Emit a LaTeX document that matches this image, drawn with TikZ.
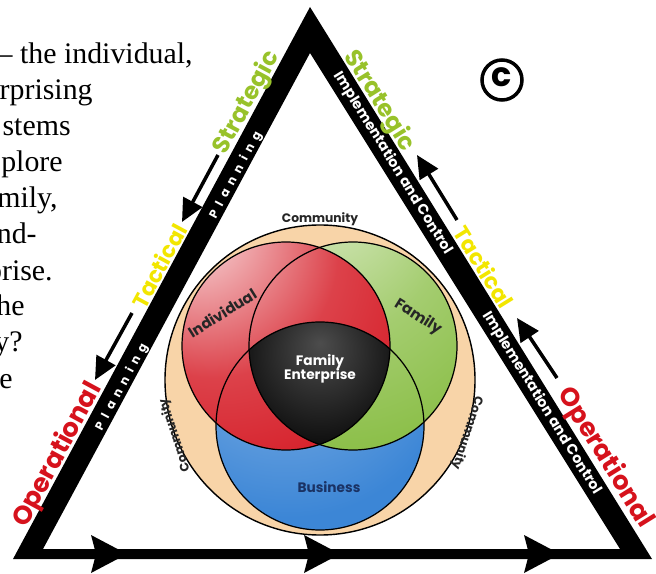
\documentclass[tikz,border=0pt]{standalone}
\usepackage{fontspec}
\setmainfont{Liberation Serif}
\newfontfamily\labelfont{Poppins}
\usetikzlibrary{arrows.meta}

\definecolor{stratgreen}{RGB}{152,194,42}
\definecolor{tactyellow}{RGB}{242,230,0}
\definecolor{operred}{RGB}{214,18,28}
\definecolor{indred}{RGB}{214,32,42}
\definecolor{famgreen}{RGB}{134,188,64}
\definecolor{busblue}{RGB}{60,134,214}
\definecolor{commpeach}{RGB}{248,212,168}
\definecolor{busnavy}{RGB}{26,50,100}

% highlights sit up and to the left of each circle
\pgfdeclareradialshading{redball}{\pgfpoint{-25bp}{32bp}}{color(0bp)=(white); color(5bp)=(indred!20!white); color(30bp)=(indred!85!white); color(48bp)=(indred); color(100bp)=(indred)}
\pgfdeclareradialshading{greenball}{\pgfpoint{-8bp}{42bp}}{color(0bp)=(famgreen!25!white); color(28bp)=(famgreen!75!white); color(52bp)=(famgreen); color(100bp)=(famgreen)}
\pgfdeclareradialshading{blueball}{\pgfpoint{-12bp}{30bp}}{color(0bp)=(busblue!55!white); color(40bp)=(busblue); color(100bp)=(busblue)}
\pgfdeclareradialshading{darkball}{\pgfpoint{0bp}{20bp}}{color(0bp)=(black!70); color(25bp)=(black); color(100bp)=(black)}

\tikzset{
    bodytext/.style={font=\fontsize{17}{20}\selectfont, inner sep=0, anchor=base east},
    sidelabel/.style={font=\labelfont\bfseries\fontsize{#1}{#1}\selectfont, inner sep=0},
    barlabel/.style={font=\labelfont\bfseries\fontsize{#1}{#1}\selectfont, text=white, inner sep=0},
    vennlabel/.style={font=\labelfont\bfseries\fontsize{#1}{#1}\selectfont, inner sep=0, align=center},
    sidearrow/.style={line width=2pt, -{Triangle[length=13pt, width=12pt]}},
}

\begin{document}
\begin{tikzpicture}[x=0.02cm, y=-0.02cm]
    \useasboundingbox (0,0) rectangle (656,574);
    \clip (0,0) rectangle (656,574);

    % text running in from the left page edge
    \foreach \xe/\txt [count=\i] in {193/{– the individual,}, 93/rprising, 71/stems,
            63/plore, 58/{mily,}, 37/und-, 53/prise., 25/he, 23/y?, 13/e} {
        \node[bodytext] (line\i) at (\xe, 28+36*\i) {\txt};
    }

    % venn diagram
    \pgfmathsetmacro{\vr}{104}
    \coordinate (comm) at (320,380);
    \coordinate (ind) at (286,346);
    \coordinate (fam) at (353,346);
    \coordinate (bus) at (320,426);
    \filldraw[fill=commpeach, line width=0.8pt] (comm) circle[radius=155];
    \shade[shading=blueball] (bus) circle[radius=\vr];
    \shade[shading=greenball] (fam) circle[radius=\vr];
    \shade[shading=redball] (ind) circle[radius=\vr];
    \begin{scope}
        \clip (ind) circle[radius=\vr];
        \clip (fam) circle[radius=\vr];
        \shade[shading=darkball] (bus) circle[radius=\vr];
    \end{scope}
    \foreach \c in {ind,fam,bus}
        \draw[line width=0.7pt] (\c) circle[radius=\vr];

    \node[vennlabel=7, text=black!85] (commtop) at (320,219) {Community};
    \node[vennlabel=7, text=black!85, rotate=108] (commleft) at (175,435) {Community};
    \node[vennlabel=7, text=black!85, rotate=-108] (commright) at (467,433) {Community};
    \node[vennlabel=8.5, text=black!85, rotate=32] (indlbl) at (222,313) {Individual};
    \node[vennlabel=8.5, text=black!85, rotate=-32] (famlbl) at (418,317) {Family};
    \node[vennlabel=7.8, text=white] (feLbl) at (320,369) {Family\\[-1pt]Enterprise};
    \node[vennlabel=7.8, text=busnavy] (buslbl) at (329,487) {Business};

    % triangle frame
    \fill[even odd rule] (310,7) -- (13,559) -- (652,559) -- cycle
        (310,53) -- (43,549) -- (620,549) -- cycle;
    \foreach \tx in {127,340,560}
        \fill (\tx,554) -- (\tx-36,535) -- (\tx-31,554) -- (\tx-36,573) -- cycle;

    % left side: planning
    \node[sidelabel=13.6, text=stratgreen, rotate=61.7] (lstrat) at (247,103) {Strategic};
    \node[sidelabel=12.5, text=tactyellow, rotate=61.7] (ltact) at (159,266) {Tactical};
    \node[sidelabel=14.7, text=operred, rotate=61.7] (loper) at (58,455) {Operational};
    \node[barlabel=6.8, rotate=61.7] (lplan1) at (236,175) {\addfontfeature{LetterSpace=50}Planning};
    \node[barlabel=6.8, rotate=61.7] (lplan2) at (122,387) {\addfontfeature{LetterSpace=50}Planning};
    \coordinate (la1) at (218,155);
    \coordinate (lb1) at (182,222);
    \coordinate (la2) at (132,313);
    \coordinate (lb2) at (95,380);
    \draw[sidearrow] (la1) -- (lb1);
    \draw[sidearrow] (la2) -- (lb2);

    % right side: implementation and control
    \node[sidelabel=13.6, text=stratgreen, rotate=-58.2] (rstrat) at (379,101) {Strategic};
    \node[sidelabel=12.5, text=tactyellow, rotate=-58.2] (rtact) at (484,267) {Tactical};
    \node[sidelabel=14.7, text=operred, rotate=-58.2] (roper) at (605,458) {Operational};
    \node[barlabel=8.2, rotate=-58.2] (rimpl1) at (393,163) {Implementation and Control};
    \node[barlabel=8.2, rotate=-58.2] (rimpl2) at (542,403) {Implementation and Control};
    \coordinate (ra1) at (457,220);
    \coordinate (rb1) at (417,155);
    \coordinate (ra2) at (557,378);
    \coordinate (rb2) at (517,318);
    \draw[sidearrow] (ra1) -- (rb1);
    \draw[sidearrow] (ra2) -- (rb2);

    % copyright mark
    \node[font=\labelfont\bfseries\fontsize{19}{19}\selectfont, inner sep=0] (copy) at (502,77) {c};
    \draw[line width=2pt] (502,80) circle[radius=20];
\end{tikzpicture}
\end{document}
